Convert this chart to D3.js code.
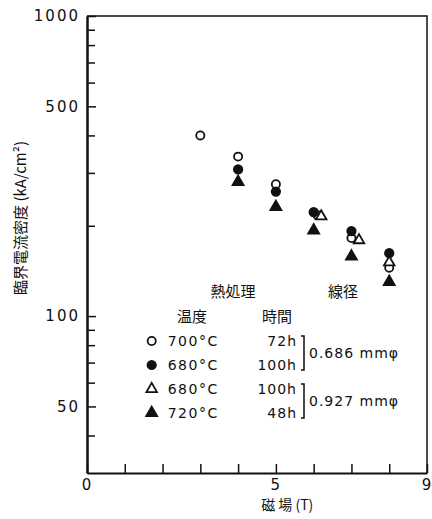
<!DOCTYPE html>
<html>
<head>
<meta charset="utf-8">
<script src="https://cdn.jsdelivr.net/npm/d3@7"></script>
<style>
body { margin: 0; background: #fff; }
text { font-family: "DejaVu Sans", sans-serif; fill: #111; }
.jp { font-family: "Noto Sans CJK JP", sans-serif; }
</style>
</head>
<body>
<div class="chart"></div>
<script>
// data
var field700 = [3, 4, 5, 6.1, 7, 8];
var jc700 = [400, 340, 275, 217, 182, 145];
var field680 = [4, 5, 6, 7, 8];
var jc680 = [308, 260, 222, 192, 162];
var field680b = [6.2, 7.2, 8];
var jc680b = [215, 179, 151];
var field720 = [4, 5, 6, 7, 8];
var jc720 = [280, 231, 193, 158, 130];

var temps = ["700°C", "680°C", "680°C", "720°C"];
var times = ["72h", "100h", "100h", "48h"];
var wires = ["0.686 mmφ", "0.927 mmφ"];

var xTicks = [0, 1, 2, 3, 4, 5, 6, 7, 8, 9];
var xLabels = [0, 5, 9];
var yMajor = [50, 100, 500, 1000];
var yMinor = [40, 60, 70, 80, 90, 200, 300, 400, 600, 700, 800, 900];

var svgWidth = 432;
var svgHeight = 519;

var margin = { top: 16, right: 5, bottom: 46, left: 87 };
var width = svgWidth - margin.left - margin.right;
var height = svgHeight - margin.top - margin.bottom;

var svg = d3.select(".chart")
  .append("svg")
  .attr("width", svgWidth)
  .attr("height", svgHeight);

var chartGroup = svg.append("g")
  .attr("transform", `translate(${margin.left}, ${margin.top})`);

var xScale = d3.scaleLinear().domain([0, 9]).range([0, width]);
var yScale = d3.scaleLog().domain([30, 1000]).range([height, 0]);

// frame top + right
chartGroup.append("path")
  .attr("d", `M0,0H${width}V${height}`)
  .attr("fill", "none")
  .attr("stroke", "#111")
  .attr("stroke-width", 1.5);

// x axis, ticks pointing inward
var xAxis = chartGroup.append("g")
  .attr("transform", `translate(0, ${height})`)
  .call(d3.axisBottom(xScale)
    .tickValues(xTicks)
    .tickSize(-9)
    .tickSizeOuter(0)
    .tickPadding(6)
    .tickFormat(d => xLabels.indexOf(d) >= 0 ? d : ""));

// y axis minor ticks
var yMinorAxis = chartGroup.append("g")
  .call(d3.axisLeft(yScale)
    .tickValues(yMinor)
    .tickSize(-8)
    .tickSizeOuter(0)
    .tickFormat(""));

var yAxis = chartGroup.append("g")
  .call(d3.axisLeft(yScale)
    .tickValues(yMajor)
    .tickSize(-9)
    .tickSizeOuter(0)
    .tickPadding(7)
    .tickFormat(d3.format("d")));

chartGroup.selectAll(".domain")
  .attr("stroke", "#111")
  .attr("stroke-width", 2);
chartGroup.selectAll(".tick line")
  .attr("stroke", "#111")
  .attr("stroke-width", 1.5);
chartGroup.selectAll(".tick text")
  .attr("font-size", "15px")
  .attr("letter-spacing", "2px")
  .attr("fill", "#111");

// axis titles
chartGroup.append("text")
  .attr("class", "jp")
  .attr("x", xScale(5.3))
  .attr("y", height + 37)
  .attr("font-size", "14px")
  .attr("text-anchor", "middle")
  .text("磁 場 (T)");

chartGroup.append("text")
  .attr("class", "jp")
  .attr("transform", "rotate(-90)")
  .attr("x", -(218 - margin.top))
  .attr("y", 26 - margin.left)
  .attr("font-size", "15px")
  .attr("text-anchor", "middle")
  .text("臨界電流密度 (kA/cm²)");

// markers
var series = [
  { x: field700, y: jc700, shape: d3.symbolCircle, filled: false, size: 52 },
  { x: field680, y: jc680, shape: d3.symbolCircle, filled: true, size: 56 },
  { x: field680b, y: jc680b, shape: d3.symbolTriangle, filled: false, size: 48 },
  { x: field720, y: jc720, shape: d3.symbolTriangle, filled: true, size: 52 }
];

series.forEach(function(s) {
  var pts = s.x.map((v, i) => [v, s.y[i]]);
  chartGroup.selectAll(null)
    .data(pts)
    .enter()
    .append("path")
    .attr("transform", d => `translate(${xScale(d[0])}, ${yScale(d[1])})`)
    .attr("d", d3.symbol().type(s.shape).size(s.size))
    .attr("fill", s.filled ? "#111" : "#fff")
    .attr("stroke", "#111")
    .attr("stroke-width", 1.8);
});

// legend
var lx = 151.7 - margin.left;
var ly = 341 - margin.top;
var step = 24;

chartGroup.append("text").attr("class", "jp")
  .attr("x", 233 - margin.left).attr("y", ly - 44)
  .attr("font-size", "15px").attr("text-anchor", "middle").text("熱処理");
chartGroup.append("text").attr("class", "jp")
  .attr("x", 343 - margin.left).attr("y", ly - 44)
  .attr("font-size", "15px").attr("text-anchor", "middle").text("線径");
chartGroup.append("text").attr("class", "jp")
  .attr("x", 192 - margin.left).attr("y", ly - 19)
  .attr("font-size", "15px").attr("text-anchor", "middle").text("温度");
chartGroup.append("text").attr("class", "jp")
  .attr("x", 277 - margin.left).attr("y", ly - 19)
  .attr("font-size", "15px").attr("text-anchor", "middle").text("時間");

series.forEach(function(s, i) {
  var ry = ly + i * step;
  chartGroup.append("path")
    .attr("transform", `translate(${lx}, ${ry})`)
    .attr("d", d3.symbol().type(s.shape).size(s.size))
    .attr("fill", s.filled ? "#111" : "#fff")
    .attr("stroke", "#111")
    .attr("stroke-width", 1.8);
  chartGroup.append("text")
    .attr("x", lx + 16)
    .attr("y", ry + 5)
    .attr("font-size", "14px")
    .attr("letter-spacing", "1.5px")
    .text(temps[i]);
  chartGroup.append("text")
    .attr("x", 297 - margin.left)
    .attr("y", ry + 5)
    .attr("font-size", "14px")
    .attr("letter-spacing", "1px")
    .attr("text-anchor", "end")
    .text(times[i]);
});

wires.forEach(function(w, j) {
  var y0 = ly + j * 2 * step - 5;
  var y1 = ly + (j * 2 + 1) * step + 5;
  var bx = 304 - margin.left;
  chartGroup.append("path")
    .attr("d", `M${bx - 3},${y0}H${bx}V${y1}H${bx - 3}`)
    .attr("fill", "none")
    .attr("stroke", "#111")
    .attr("stroke-width", 1.5);
  chartGroup.append("text")
    .attr("x", bx + 5)
    .attr("y", (y0 + y1) / 2 + 5)
    .attr("font-size", "14px")
    .attr("letter-spacing", "1px")
    .text(w);
});
</script>
</body>
</html>
